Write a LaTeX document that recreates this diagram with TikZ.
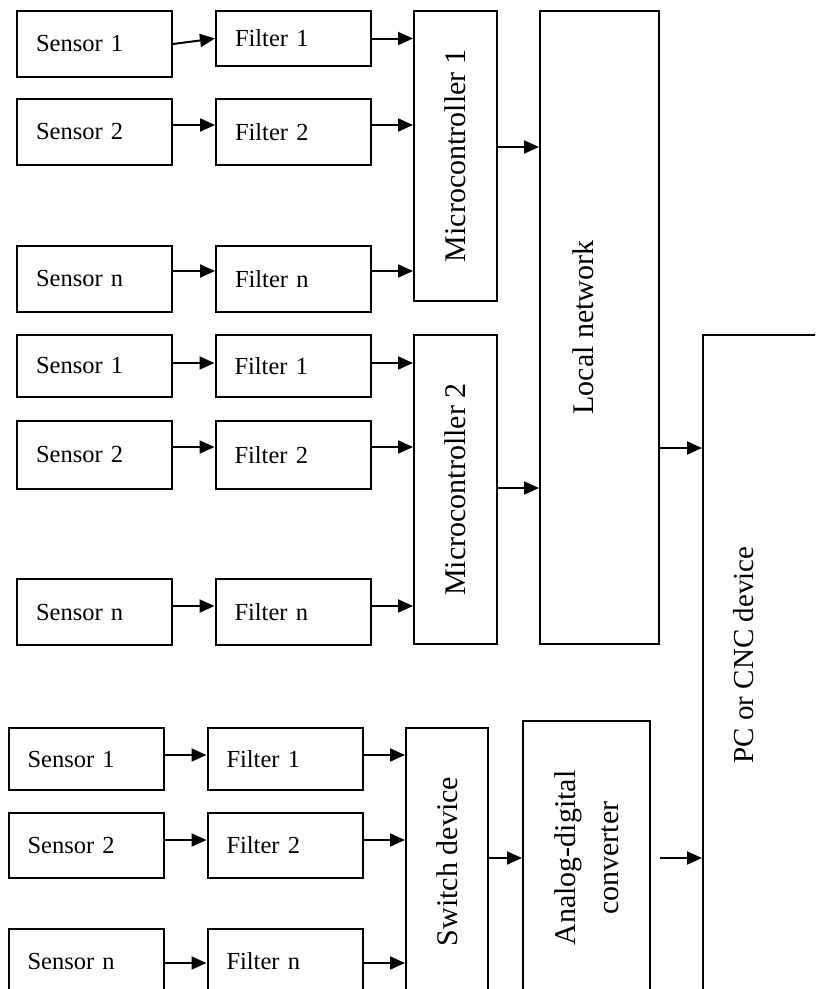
\documentclass[tikz,border=0pt]{standalone}
\usepackage{fontspec}
\setmainfont{Liberation Serif}
\usetikzlibrary{arrows.meta}

\begin{document}
\begin{tikzpicture}[
                x=1pt, y=-1pt,
                box/.style={draw, line width=2pt, inner sep=0pt},
                sbox/.style={box, text width=117pt, inner xsep=19pt, align=left,
                             font=\fontsize{24.5}{29}\selectfont},
                vbox/.style={box, rotate=90, align=center,
                             font=\fontsize{30}{43.5}\selectfont},
                arr/.style={line width=2pt, -{Triangle[length=15pt,width=13pt]}}
            ]

            \useasboundingbox (0,0) rectangle (815,989);
            \clip (0,0) rectangle (815,989);

            % first group of sensors
            \node[sbox, minimum height=66pt] (s11) at (94.5,44) {Sensor 1};
            \node[sbox, minimum height=55pt] (f11) at (293.5,38.5) {Filter 1};
            \node[sbox, minimum height=66pt] (s12) at (94.5,132) {Sensor 2};
            \node[sbox, minimum height=66pt] (f12) at (293.5,132) {Filter 2};
            \node[sbox, minimum height=66pt] (s1n) at (94.5,279) {Sensor n};
            \node[sbox, minimum height=66pt] (f1n) at (293.5,279) {Filter n};
            \node[vbox, minimum width=290pt, minimum height=83pt] (mc1) at (455.5,156) {Microcontroller 1};

            % second group of sensors
            \node[sbox, minimum height=62pt] (s21) at (94.5,366) {Sensor 1};
            \node[sbox, minimum height=62pt] (f21) at (293,366) {Filter 1};
            \node[sbox, minimum height=68pt] (s22) at (94.5,455) {Sensor 2};
            \node[sbox, minimum height=68pt] (f22) at (293,455) {Filter 2};
            \node[sbox, minimum height=66pt] (s2n) at (94.5,612) {Sensor n};
            \node[sbox, minimum height=66pt] (f2n) at (293,612) {Filter n};
            \node[vbox, minimum width=309pt, minimum height=83pt] (mc2) at (455.5,489.5) {Microcontroller 2};

            \node[vbox, minimum width=633pt, minimum height=119pt, text depth=32pt] (ln) at (599.5,327.5) {Local network};

            % third group of sensors
            \node[sbox, minimum height=62pt] (s31) at (86,759) {Sensor 1};
            \node[sbox, minimum height=62pt] (f31) at (285,759) {Filter 1};
            \node[sbox, minimum height=65pt] (s32) at (86,845.5) {Sensor 2};
            \node[sbox, minimum height=65pt] (f32) at (285,845.5) {Filter 2};
            \node[sbox, minimum height=64pt] (s3n) at (86,961) {Sensor n};
            \node[sbox, minimum height=64pt] (f3n) at (285,961) {Filter n};
            \node[vbox, minimum width=267pt, minimum height=82pt] (sw) at (447,861.5) {Switch device};
            \node[vbox, minimum width=274pt, minimum height=127pt] (adc) at (586.5,858) {Analog-digital\\converter};

            \node[box, minimum width=132pt, minimum height=665pt] (pc) at (769,667.5) {};
            \node[rotate=90, font=\fontsize{29}{35}\selectfont] (pctext) at ([xshift=-25pt,yshift=12.5pt]pc.center) {PC or CNC device};
            \coordinate (adcout) at ([xshift=9pt]adc.south);

            % arrows (north/south of the turned boxes are their left/right sides)
            \draw[arr] (s11.east) -- (f11.west);
            \draw[arr] (f11.east) -- (f11.east -| mc1.north);
            \draw[arr] (s12.east |- 0,125) -- (f12.west |- 0,125);
            \draw[arr] (f12.east |- 0,125) -- (mc1.north |- 0,125);
            \draw[arr] (s1n.east |- 0,271) -- (f1n.west |- 0,271);
            \draw[arr] (f1n.east |- 0,271) -- (mc1.north |- 0,271);
            \draw[arr] (mc1.south |- 0,147) -- (ln.north |- 0,147);

            \draw[arr] (s21.east |- 0,363) -- (f21.west |- 0,363);
            \draw[arr] (f21.east |- 0,363) -- (mc2.north |- 0,363);
            \draw[arr] (s22.east |- 0,447) -- (f22.west |- 0,447);
            \draw[arr] (f22.east |- 0,447) -- (mc2.north |- 0,447);
            \draw[arr] (s2n.east |- 0,606) -- (f2n.west |- 0,606);
            \draw[arr] (f2n.east |- 0,606) -- (mc2.north |- 0,606);
            \draw[arr] (mc2.south |- 0,488) -- (ln.north |- 0,488);

            \draw[arr] (ln.south |- 0,448) -- (pc.west |- 0,448);

            \draw[arr] (s31.east |- 0,755) -- (f31.west |- 0,755);
            \draw[arr] (f31.east |- 0,755) -- (sw.north |- 0,755);
            \draw[arr] (s32.east |- 0,840) -- (f32.west |- 0,840);
            \draw[arr] (f32.east |- 0,840) -- (sw.north |- 0,840);
            \draw[arr] (s3n.east |- 0,963) -- (f3n.west |- 0,963);
            \draw[arr] (f3n.east |- 0,963) -- (sw.north |- 0,963);
            \draw[arr] (sw.south |- 0,858) -- (adc.north |- 0,858);
            \draw[arr] (adcout |- 0,858) -- (pc.west |- 0,858);

        \end{tikzpicture}
\end{document}
